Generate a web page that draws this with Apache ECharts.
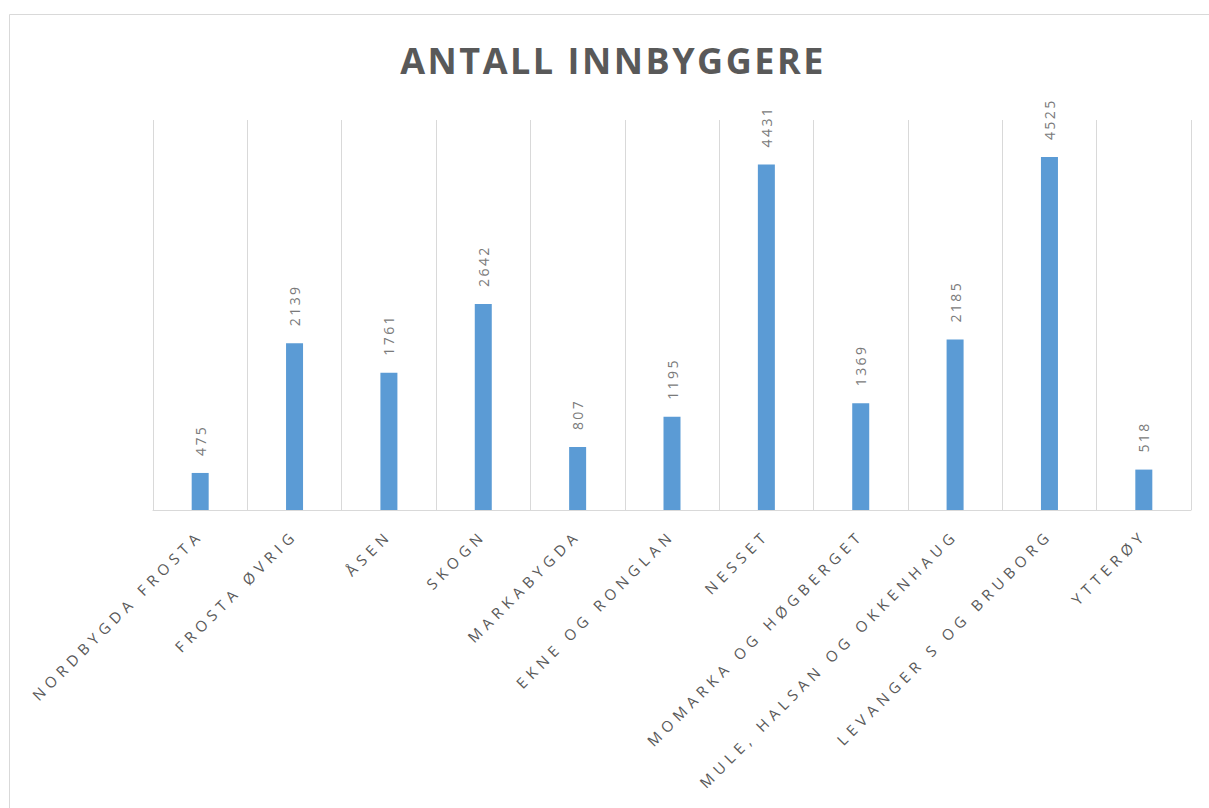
<!DOCTYPE html>
<html>
<head>
<meta charset="utf-8">
<script src="https://cdn.jsdelivr.net/npm/echarts@6/dist/echarts.min.js"></script>
<style>
  html, body { margin: 0; padding: 0; background: #ffffff; }
  #chart { width: 1209px; height: 808px; }
  #chart text[style*="36px"] { letter-spacing: 2.5px; }
  #chart text[style*="Arial"] { letter-spacing: 5.2px; }
  #chart text[style*="Verdana"] { letter-spacing: 2.4px; }
</style>
</head>
<body>
<div id="chart"></div>
<script>
const titleText = 'ANTALL INNBYGGERE';
const categories = [
  'NORDBYGDA FROSTA',
  'FROSTA ØVRIG',
  'ÅSEN',
  'SKOGN',
  'MARKABYGDA',
  'EKNE OG RONGLAN',
  'NESSET',
  'MOMARKA OG HØGBERGET',
  'MULE, HALSAN OG OKKENHAUG',
  'LEVANGER S OG BRUBORG',
  'YTTERØY'
];
const values = [475, 2139, 1761, 2642, 807, 1195, 4431, 1369, 2185, 4525, 518];
const yMin = 0;
const yMax = 5000;

const chart = echarts.init(document.getElementById('chart'), null, { renderer: 'svg' });
chart.setOption({
  animation: false,
  backgroundColor: '#ffffff',
  graphic: [
    {
      type: 'rect',
      z: -10,
      silent: true,
      shape: { x: 9.5, y: 14.5, width: 1400, height: 1000 },
      style: { fill: 'none', stroke: '#d9d9d9', lineWidth: 1 }
    },
    {
      type: 'text',
      x: 613,
      y: 60,
      style: {
        text: titleText,
        fill: '#595959',
        font: 'bold 36px Open Sans',
        textAlign: 'center',
        textVerticalAlign: 'middle'
      }
    }
  ],
  grid: { left: 153, right: 18, top: 120, bottom: 298, containLabel: false },
  xAxis: {
    type: 'category',
    data: categories,
    axisLine: { show: true, lineStyle: { color: '#d9d9d9', width: 1 } },
    axisTick: { show: false },
    splitLine: { show: true, lineStyle: { color: '#d9d9d9', width: 1 } },
    axisLabel: {
      interval: 0,
      rotate: 45,
      margin: 22,
      color: '#595959',
      fontSize: 15,
      fontFamily: 'Open Sans, Arial'
    }
  },
  yAxis: {
    type: 'value',
    min: yMin,
    max: yMax,
    show: false,
    splitLine: { show: false }
  },
  series: [{
    type: 'bar',
    data: values,
    barWidth: 17,
    itemStyle: { color: '#5b9bd5' },
    label: {
      show: true,
      position: 'top',
      distance: 17,
      rotate: 90,
      align: 'left',
      verticalAlign: 'middle',
      color: '#7a7a7a',
      fontSize: 14,
      fontFamily: 'Open Sans, Verdana'
    }
  }]
});
</script>
</body>
</html>
